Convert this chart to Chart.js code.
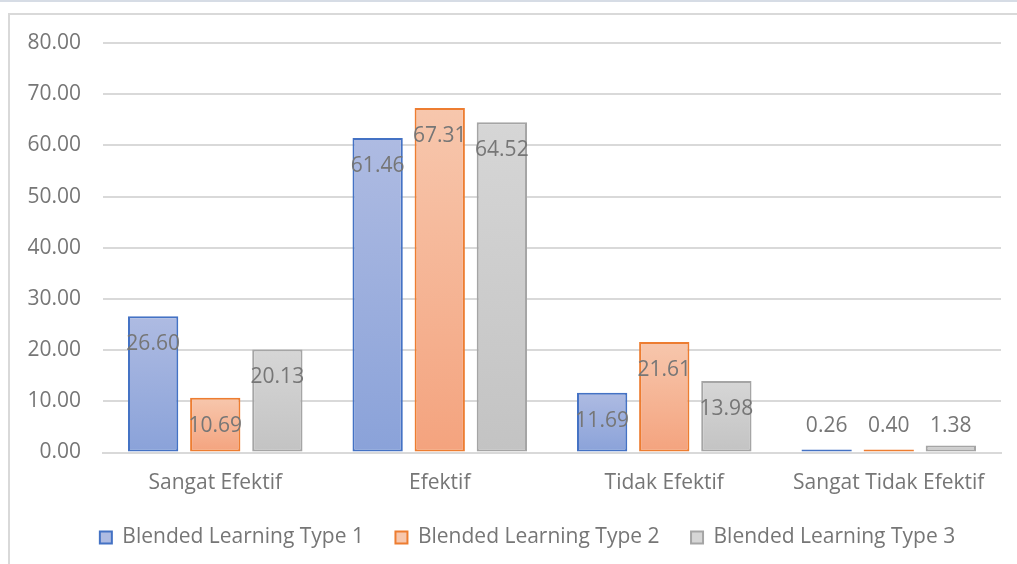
<!DOCTYPE html>
<html lang="id">
<head>
<meta charset="UTF-8">
<title>Blended Learning</title>
<script src="https://cdn.jsdelivr.net/npm/chart.js"></script>
<style>
  html, body { margin: 0; padding: 0; background: #fff; overflow: hidden; }
  body { width: 1017px; height: 564px; border-top: 2px solid #d6dce5; box-sizing: border-box; position: relative; }
  #box { position: absolute; left: 8px; top: 11px; width: 1045px; height: 590px; border: 2px solid #d9d9d9; }
  canvas { display: block; }
</style>
</head>
<body>
<div id="box">
  <canvas id="myChart" width="1035" height="560"></canvas>
</div>
<script>
  var categories = ['Sangat Efektif', 'Efektif', 'Tidak Efektif', 'Sangat Tidak Efektif'];
  var seriesNames = ['Blended Learning Type 1', 'Blended Learning Type 2', 'Blended Learning Type 3'];
  var type1 = [26.60, 61.46, 11.69, 0.26];
  var type2 = [10.69, 67.31, 21.61, 0.40];
  var type3 = [20.13, 64.52, 13.98, 1.38];

  var borders = ['#4472c4', '#ed7d31', '#a5a5a5'];
  var tops = ['#aebbe2', '#f7c7ad', '#d6d6d6'];
  var bottoms = ['#8aa2d9', '#f4a37e', '#c3c3c3'];
  var font = '"Open Sans", sans-serif';
  var grey = '#767676';
  var fontSize = 21;

  function barFill(i) {
    return function (ctx) {
      var chart = ctx.chart;
      if (!chart.chartArea || ctx.parsed == null) return tops[i];
      var y = chart.scales.y;
      var top = y.getPixelForValue(ctx.parsed.y);
      var base = y.getPixelForValue(0);
      if (base - top < 4) return bottoms[i];
      var g = chart.ctx.createLinearGradient(0, top, 0, base);
      g.addColorStop(0, tops[i]);
      g.addColorStop(1, bottoms[i]);
      return g;
    };
  }

  // Excel style data labels: inside the top of tall bars, above short ones
  var labelPlugin = {
    id: 'valueLabels',
    afterDatasetsDraw: function (chart) {
      var c = chart.ctx;
      c.save();
      c.font = fontSize + 'px ' + font;
      c.fillStyle = grey;
      c.textAlign = 'center';
      c.textBaseline = 'middle';
      chart.data.datasets.forEach(function (ds, di) {
        chart.getDatasetMeta(di).data.forEach(function (bar, i) {
          var h = bar.base - bar.y;
          var y = h > 30 ? bar.y + 28 : bar.base - 25;
          c.fillText(ds.data[i].toFixed(2), bar.x, y);
        });
      });
      c.restore();
    }
  };

  var values = [type1, type2, type3];
  var datasets = values.map(function (v, i) {
    return {
      label: seriesNames[i],
      data: v,
      backgroundColor: barFill(i),
      borderColor: borders[i],
      borderWidth: 2,
      borderSkipped: false,
      minBarLength: 3,
      categoryPercentage: 0.83,
      barPercentage: 0.81
    };
  });

  new Chart(document.getElementById('myChart'), {
    type: 'bar',
    data: { labels: categories, datasets: datasets },
    plugins: [labelPlugin],
    options: {
      responsive: false,
      animation: false,
      layout: { padding: { top: 28, right: 0, bottom: 17, left: 0 } },
      plugins: {
        tooltip: { enabled: false },
        legend: {
          position: 'bottom',
          labels: {
            color: grey,
            font: { family: font, size: fontSize },
            boxWidth: 12,
            boxHeight: 12,
            padding: 31.5,
            generateLabels: function (chart) {
              return seriesNames.map(function (n, i) {
                return {
                  text: n,
                  fillStyle: tops[i],
                  strokeStyle: borders[i],
                  lineWidth: 2,
                  fontColor: grey,
                  datasetIndex: i
                };
              });
            }
          }
        }
      },
      scales: {
        x: {
          grid: { display: false, drawTicks: false },
          border: { display: true, color: '#d9d9d9', width: 2 },
          ticks: { color: grey, font: { family: font, size: fontSize }, padding: 17.5 },
          afterFit: function (s) { s.height = 43; }
        },
        y: {
          min: 0,
          max: 80,
          grid: { color: '#d9d9d9', lineWidth: 2, drawTicks: true, tickLength: 22, tickColor: 'rgba(0,0,0,0)' },
          border: { display: false },
          ticks: {
            stepSize: 10,
            color: grey,
            font: { family: font, size: fontSize },
            padding: 0,
            callback: function (v) { return v.toFixed(2); }
          },
          afterFit: function (s) { s.width = 93; }
        },
        // empty right-hand axis, only reserves the space right of the plot
        y2: {
          position: 'right',
          grid: { display: false, drawTicks: false },
          border: { display: false },
          ticks: { display: false },
          afterFit: function (s) { s.width = 44; }
        }
      }
    }
  });
</script>
</body>
</html>
